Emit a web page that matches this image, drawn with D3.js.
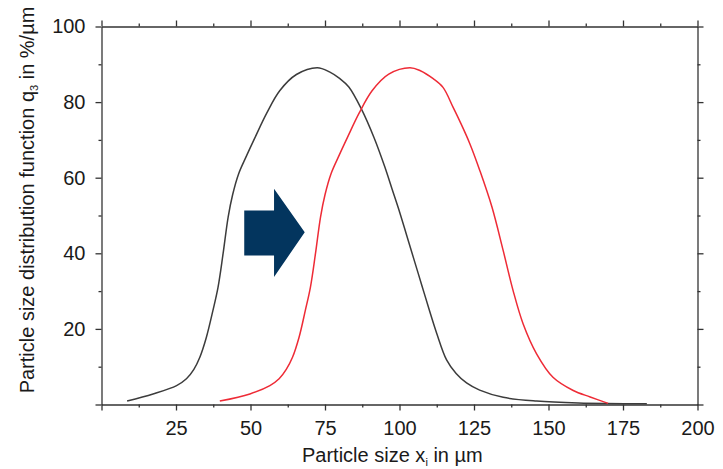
<!DOCTYPE html>
<html>
<head>
<meta charset="utf-8">
<script src="https://cdn.jsdelivr.net/npm/d3@7"></script>
<style>
  html, body { margin: 0; padding: 0; background: #fff; }
  svg { display: block; }
  text { font-family: "Liberation Sans", Arial, sans-serif; fill: #1a1a1a; }
</style>
</head>
<body>
<svg id="chart" width="723" height="469"></svg>
<script>
// ---- data ----
const xTickValues = [0, 25, 50, 75, 100, 125, 150, 175, 200];
const xMinorTicks = [12.5, 37.5, 62.5, 87.5, 112.5, 137.5, 162.5, 187.5];
const yTickValues = [0, 20, 40, 60, 80, 100];
const yMinorTicks = [10, 30, 50, 70, 90];

// before (black) curve: particle size (µm) vs q3 (%/µm)
const beforeX = [8.6, 17.3, 25.2, 28.5, 31.0, 33.0, 35.2, 37.4, 39.1, 40.8, 42.5, 44.0, 46.0, 48.5, 51.5, 55.4, 59.8, 65.4, 72.4, 76.5, 80.0, 83.0, 87.2, 91.5, 95.0, 97.5, 100.0, 102.5, 105.0, 107.5, 110.0, 112.5, 115.8, 119.0, 122.5, 126.9, 134.8, 146.0, 160.0, 183.0];
const beforeQ = [0.9, 2.8, 5.0, 6.8, 9.3, 12.5, 17.8, 24.9, 31.0, 39.9, 49.6, 55.5, 61.0, 65.5, 70.6, 77.0, 83.0, 87.3, 89.1, 88.0, 86.2, 84.0, 78.2, 70.5, 63.0, 57.0, 51.0, 44.5, 38.0, 31.5, 25.0, 18.8, 11.8, 8.2, 5.7, 3.8, 1.9, 0.9, 0.4, 0.2];

// after (red) curve
const afterX = [39.7, 49.8, 56.5, 59.6, 62.0, 64.1, 66.3, 68.4, 70.1, 71.8, 73.5, 75.0, 77.0, 79.5, 82.5, 86.4, 90.8, 96.4, 103.5, 107.0, 111.3, 114.6, 118.0, 120.5, 123.6, 127.0, 131.0, 134.8, 138.1, 141.5, 146.0, 151.5, 158.3, 164.0, 170.0];
const afterQ = [0.9, 2.8, 5.0, 6.8, 9.3, 12.5, 17.8, 24.9, 31.0, 39.9, 49.6, 55.5, 61.0, 65.5, 70.6, 77.0, 83.0, 87.4, 89.1, 88.3, 86.2, 83.9, 78.6, 74.5, 69.0, 61.8, 52.3, 40.7, 30.2, 21.3, 13.4, 7.2, 3.7, 2.0, 0.3];

// shift arrow outline (data units)
const arrowX = [47.9, 57.9, 57.9, 68.2, 57.9, 57.9, 47.9];
const arrowQ = [51.3, 51.3, 57.1, 45.6, 33.7, 39.4, 39.4];

const xTitle = "Particle size x";
const xTitleSub = "i";
const xTitleRest = " in µm";
const yTitle = "Particle size distribution function q";
const yTitleSub = "3";
const yTitleRest = " in %/µm";

// ---- layout ----
const L = 101.5, R = 697.5, T = 26.5, B = 404.5;
const axisColor = "#333";

const svg = d3.select("#chart");
const x = d3.scaleLinear().domain([0, 200]).range([L, R]);
const y = d3.scaleLinear().domain([0, 100]).range([B, T]);

function styleAxis(g) {
  g.selectAll("path.domain").attr("stroke", axisColor).attr("stroke-width", 1.3);
  g.selectAll(".tick line").attr("stroke", axisColor).attr("stroke-width", 1.3);
  g.selectAll(".tick text").attr("font-size", 20).attr("fill", "#1a1a1a")
    .attr("font-family", '"Liberation Sans", Arial, sans-serif');
}

// bottom axis
svg.append("g").attr("transform", `translate(0,${B})`)
  .call(d3.axisBottom(x).tickValues(xTickValues).tickFormat(d => d === 0 ? "" : d)
    .tickSize(6).tickSizeOuter(0).tickPadding(10)).call(styleAxis);
svg.append("g").attr("transform", `translate(0,${B})`)
  .call(d3.axisBottom(x).tickValues(xMinorTicks).tickFormat("").tickSize(3).tickSizeOuter(0))
  .call(styleAxis).select("path.domain").remove();

// top axis
svg.append("g").attr("transform", `translate(0,${T})`)
  .call(d3.axisTop(x).tickValues(xTickValues).tickFormat("").tickSize(6).tickSizeOuter(0)).call(styleAxis);
svg.append("g").attr("transform", `translate(0,${T})`)
  .call(d3.axisTop(x).tickValues(xMinorTicks).tickFormat("").tickSize(3).tickSizeOuter(0))
  .call(styleAxis).select("path.domain").remove();

// left axis
svg.append("g").attr("transform", `translate(${L},0)`)
  .call(d3.axisLeft(y).tickValues(yTickValues).tickFormat(d => d === 0 ? "" : d)
    .tickSize(6).tickSizeOuter(0).tickPadding(10)).call(styleAxis);
svg.append("g").attr("transform", `translate(${L},0)`)
  .call(d3.axisLeft(y).tickValues(yMinorTicks).tickFormat("").tickSize(3).tickSizeOuter(0))
  .call(styleAxis).select("path.domain").remove();

// right axis
svg.append("g").attr("transform", `translate(${R},0)`)
  .call(d3.axisRight(y).tickValues(yTickValues).tickFormat("").tickSize(6).tickSizeOuter(0)).call(styleAxis);
svg.append("g").attr("transform", `translate(${R},0)`)
  .call(d3.axisRight(y).tickValues(yMinorTicks).tickFormat("").tickSize(3).tickSizeOuter(0))
  .call(styleAxis).select("path.domain").remove();

// curves
const line = d3.line().x(d => x(d[0])).y(d => y(d[1])).curve(d3.curveCatmullRom.alpha(0.5));
const before = beforeX.map((v, i) => [v, beforeQ[i]]);
const after = afterX.map((v, i) => [v, afterQ[i]]);

svg.append("path").datum(before).attr("d", line)
  .attr("fill", "none").attr("stroke", "#3c3c3c").attr("stroke-width", 1.5);
svg.append("path").datum(after).attr("d", line)
  .attr("fill", "none").attr("stroke", "#ee2b36").attr("stroke-width", 1.5);

// arrow
const arrow = arrowX.map((v, i) => [x(v), y(arrowQ[i])]);
svg.append("polygon").attr("points", arrow.map(p => p.join(",")).join(" "))
  .attr("fill", "#03355e");

// axis titles
const xt = svg.append("text").attr("x", 302).attr("y", 462)
  .attr("font-size", 20).attr("text-anchor", "start");
xt.append("tspan").text(xTitle);
xt.append("tspan").attr("font-size", 11).attr("dy", 4).text(xTitleSub);
xt.append("tspan").attr("dy", -4).text(xTitleRest);

const yt = svg.append("text").attr("transform", "translate(34,200) rotate(-90)")
  .attr("font-size", 20).attr("text-anchor", "middle");
yt.append("tspan").text(yTitle);
yt.append("tspan").attr("font-size", 11).attr("dy", 4).text(yTitleSub);
yt.append("tspan").attr("dy", -4).text(yTitleRest);
</script>
</body>
</html>
